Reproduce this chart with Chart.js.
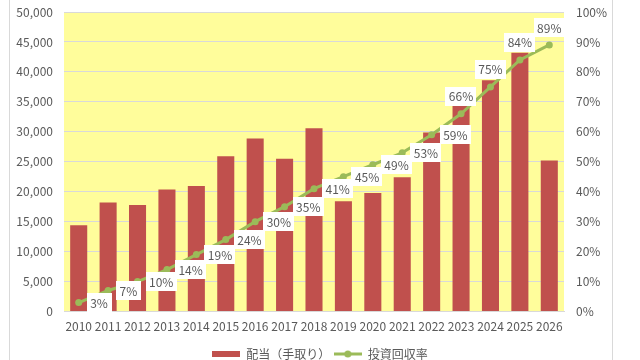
<!DOCTYPE html>
<html><head><meta charset="utf-8">
<style>html,body{margin:0;padding:0;background:#fff;}#wrap{width:640px;height:360px;position:relative;}</style>
<script src="https://cdn.jsdelivr.net/npm/chart.js@4.4.1/dist/chart.umd.min.js"></script>
</head><body><div id="wrap"><canvas id="c" width="640" height="360"></canvas></div>
<script>
const years = ['2010','2011','2012','2013','2014','2015','2016','2017','2018','2019','2020','2021','2022','2023','2024','2025','2026'];
const dividends = [14400,18200,17800,20350,20950,25900,28900,25500,30600,18400,19800,22400,29900,34300,38600,43200,25200];
const recoveryRate = [3,7,10,14,19,24,30,35,41,45,49,53,59,66,75,84,89];
const seriesNames = ['配当（手取り）','投資回収率'];
const leftMax = 50000, leftStep = 5000;
const rightMax = 100, rightStep = 10;
const labelAboveFrom = 13; // index from which the data labels sit above the points

const FONT = '"Noto Sans CJK JP", "Noto Sans", sans-serif';
const TXT = '#595959';
const BAR = '#C0504D';
const LINE = '#9BBB59';

function makeIcon(kind){
  const cv = document.createElement('canvas');
  cv.width = 28; cv.height = 8;
  const g = cv.getContext('2d');
  if (kind === 'bar') {
    g.fillStyle = BAR; g.fillRect(0,1,28,6);
  } else {
    g.strokeStyle = LINE; g.lineWidth = 3;
    g.beginPath(); g.moveTo(0,4); g.lineTo(28,4); g.stroke();
    g.fillStyle = LINE; g.beginPath(); g.arc(14,4,3.5,0,Math.PI*2); g.fill();
  }
  return cv;
}
const icons = [makeIcon('bar'), makeIcon('line')];

const bgPlugin = {
  id: 'bg',
  afterLayout(chart){
    const lg = chart.legend;
    if (lg) { lg.top += 10; lg.bottom += 10; }
  },
  beforeDraw(chart){
    const {ctx, chartArea:a} = chart;
    ctx.save();
    ctx.fillStyle = '#fff'; ctx.fillRect(0,0,chart.width,chart.height);
    ctx.fillStyle = '#FFFD9B';
    ctx.fillRect(a.left, a.top, a.right-a.left, a.bottom-a.top);
    ctx.strokeStyle = '#D9D9D9'; ctx.lineWidth = 1;
    ctx.beginPath(); ctx.moveTo(9.5,0); ctx.lineTo(9.5,chart.height);
    ctx.moveTo(612.5,0); ctx.lineTo(612.5,chart.height); ctx.stroke();
    ctx.restore();
  }
};

const labelPlugin = {
  id: 'pctLabels',
  afterDatasetsDraw(chart){
    const ctx = chart.ctx;
    const meta = chart.getDatasetMeta(1);
    ctx.save();
    ctx.font = '12px ' + FONT;
    ctx.textBaseline = 'middle';
    ctx.textAlign = 'center';
    meta.data.forEach((pt, i) => {
      const txt = recoveryRate[i] + '%';
      const w = ctx.measureText(txt).width + 7;
      const h = 19;
      let cx, cy;
      if (i >= labelAboveFrom) { cx = pt.x; cy = pt.y - 8 - h/2; }
      else { cx = pt.x + 8 + w/2; cy = pt.y; }
      ctx.fillStyle = '#fff';
      ctx.fillRect(Math.round(cx - w/2), Math.round(cy - h/2), Math.round(w), h);
      ctx.fillStyle = TXT;
      ctx.fillText(txt, cx, cy + 0.5);
    });
    ctx.restore();
  }
};

function noPad(s){ s.paddingTop = 0; s.paddingBottom = 0; }

new Chart(document.getElementById('c'), {
  data: {
    labels: years,
    datasets: [
      { type: 'bar', label: seriesNames[0], data: dividends, backgroundColor: BAR, yAxisID: 'y',
        categoryPercentage: 1, barPercentage: 0.58, order: 2 },
      { type: 'line', label: seriesNames[1], data: recoveryRate, borderColor: LINE, backgroundColor: LINE,
        borderWidth: 3, pointRadius: 3.5, pointHoverRadius: 3.5, pointBackgroundColor: LINE, pointBorderWidth: 0,
        tension: 0, yAxisID: 'y1', order: 1 }
    ]
  },
  options: {
    responsive: false, animation: false, devicePixelRatio: 1,
    layout: { padding: { top: 12, left: 0, right: 0, bottom: 0 } },
    plugins: {
      tooltip: { enabled: false },
      legend: {
        position: 'bottom',
        labels: {
          usePointStyle: true, pointStyleWidth: 28, boxHeight: 8,
          padding: 3.5, color: TXT, font: { family: FONT, size: 12 },
          generateLabels(chart){
            const items = Chart.defaults.plugins.legend.labels.generateLabels(chart);
            items.sort((a, b) => a.datasetIndex - b.datasetIndex);
            items.forEach(it => { it.pointStyle = icons[it.datasetIndex]; });
            return items;
          }
        }
      }
    },
    scales: {
      x: {
        grid: { display: false, drawTicks: false },
        border: { display: true, color: '#D9D9D9' },
        ticks: { color: TXT, font: { family: FONT, size: 12 }, padding: 8, maxRotation: 0, autoSkip: false },
        afterFit(s){ s.height = 23; s.paddingLeft = 0; s.paddingRight = 0; }
      },
      y: {
        position: 'left', min: 0, max: leftMax,
        grid: { color: '#D9D9D9', drawTicks: false },
        border: { display: false },
        ticks: { stepSize: leftStep, color: TXT, font: { family: FONT, size: 12 }, padding: 11,
          callback: v => v.toLocaleString('en-US') },
        afterFit(s){ s.width = 64; noPad(s); }
      },
      y1: {
        position: 'right', min: 0, max: rightMax,
        grid: { display: false, drawTicks: false },
        border: { display: false },
        ticks: { stepSize: rightStep, color: TXT, font: { family: FONT, size: 12 }, padding: 12,
          callback: v => v + '%' },
        afterFit(s){ s.width = 76; noPad(s); }
      }
    }
  },
  plugins: [bgPlugin, labelPlugin]
});
</script>
</body></html>
